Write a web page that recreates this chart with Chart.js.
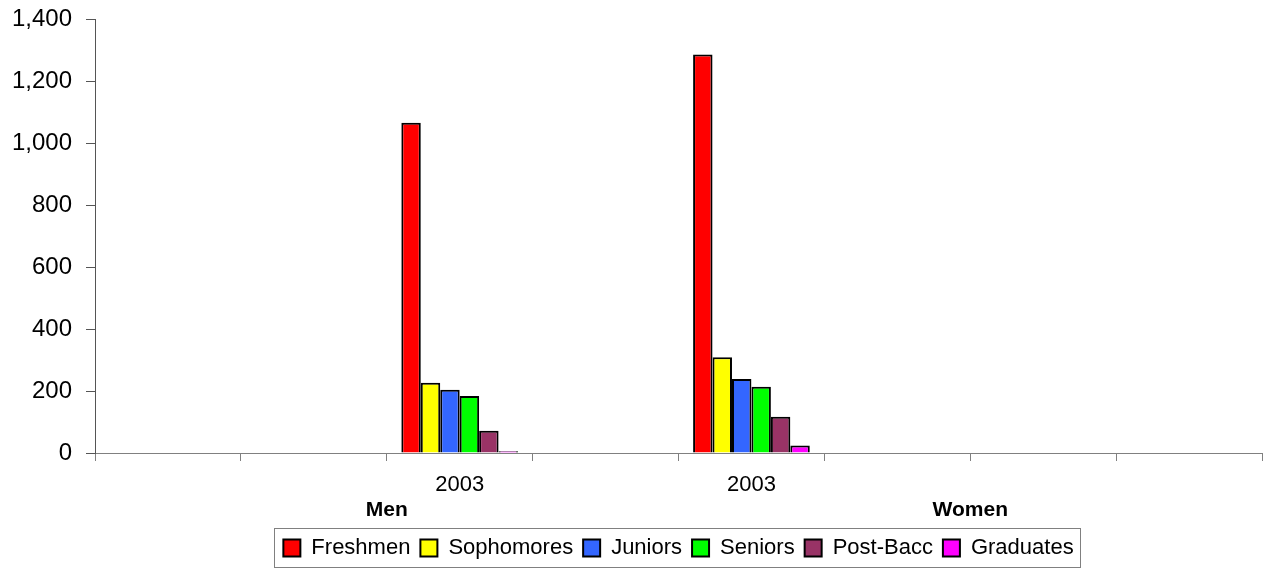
<!DOCTYPE html>
<html>
<head>
<meta charset="utf-8">
<script src="https://cdn.jsdelivr.net/npm/chart.js@4/dist/chart.umd.min.js"></script>
<style>
html,body{margin:0;padding:0;background:#fff;}
#wrap{width:1263px;height:569px;position:relative;}
</style>
</head>
<body>
<div id="wrap"><canvas id="c" width="1263" height="569"></canvas></div>
<script>
const categories = ["", "", "2003", "", "2003", "", "", ""];
const groupLabels = ["Men", "Women"];
const yTicks = [0, 200, 400, 600, 800, 1000, 1200, 1400];
const seriesNames = ["Freshmen", "Sophomores", "Juniors", "Seniors", "Post-Bacc", "Graduates"];
const freshmen   = [null, null, 1066, null, 1287, null, null, null];
const sophomores = [null, null, 227,  null, 309,  null, null, null];
const juniors    = [null, null, 204,  null, 239,  null, null, null];
const seniors    = [null, null, 184,  null, 214,  null, null, null];
const postBacc   = [null, null, 72,   null, 117,  null, null, null];
const graduates  = [null, null, 6,    null, 24,   null, null, null];
const seriesColors = ["#FF0000", "#FFFF00", "#3366FF", "#00FF00", "#993366", "#FF00FF"];

const seriesValues = [freshmen, sophomores, juniors, seniors, postBacc, graduates];
const FONT = "'Liberation Sans', Arial, sans-serif";

const legendBorder = {
  id: 'legendBorder',
  afterDraw(chart) {
    const l = chart.legend;
    if (!l || !l.legendHitBoxes || !l.legendHitBoxes.length) return;
    const hb = l.legendHitBoxes;
    let x0 = Infinity, x1 = -Infinity, y0 = Infinity, y1 = -Infinity;
    hb.forEach(b => {
      x0 = Math.min(x0, b.left); x1 = Math.max(x1, b.left + b.width);
      y0 = Math.min(y0, b.top); y1 = Math.max(y1, b.top + b.height);
    });
    const ctx = chart.ctx;
    ctx.save();
    ctx.strokeStyle = '#808080';
    ctx.lineWidth = 1;
    ctx.strokeRect(Math.round(x0 - 9) + 0.5, Math.round(y0 - 9) + 0.5, Math.round(x1 - x0 + 16), Math.round(y1 - y0 + 17));
    ctx.restore();
  }
};

new Chart(document.getElementById('c'), {
  type: 'bar',
  data: {
    labels: categories,
    datasets: seriesNames.map((n, i) => ({
      label: n,
      data: seriesValues[i],
      backgroundColor: seriesColors[i],
      borderColor: '#000000',
      borderWidth: 2,
      categoryPercentage: 0.8,
      barPercentage: 1.0,
      xAxisID: 'x'
    }))
  },
  options: {
    responsive: false,
    animation: false,
    devicePixelRatio: 1,
    layout: { padding: { top: 1, right: 1, left: 12, bottom: 0 } },
    plugins: {
      tooltip: { enabled: false },
      legend: {
        position: 'bottom',
        fullSize: false,
        labels: {
          color: '#000',
          font: { family: FONT, size: 22 },
          boxWidth: 17,
          boxHeight: 17,
          padding: 10
        }
      }
    },
    scales: {
      x: {
        type: 'category',
        position: 'bottom',
        offset: true,
        weight: 1,
        afterFit: s => { s.height = 45; },
        grid: { display: true, offset: true, drawOnChartArea: false, drawTicks: true, tickLength: 8, color: '#808080' },
        border: { display: true, color: '#808080', width: 1 },
        ticks: { color: '#000', font: { family: FONT, size: 22 }, padding: 11, maxRotation: 0, autoSkip: false }
      },
      x2: {
        type: 'category',
        labels: groupLabels,
        position: 'bottom',
        offset: true,
        weight: 2,
        afterFit: s => { s.height = 29; },
        grid: { display: false, drawTicks: false, tickLength: 0 },
        border: { display: false },
        ticks: { color: '#000', font: { family: FONT, size: 21, weight: 'bold' }, padding: 0, maxRotation: 0, autoSkip: false }
      },
      y: {
        min: 0,
        max: 1400,
        afterBuildTicks: s => { s.ticks = yTicks.map(v => ({ value: v })); },
        afterFit: s => { s.width = 83; },
        grid: { display: true, drawOnChartArea: false, drawTicks: true, tickLength: 18, tickBorderDash: [0, 9, 9, 100], color: '#555' },
        border: { display: true, color: '#555', width: 1 },
        ticks: {
          color: '#000',
          font: { family: FONT, size: 24 },
          padding: 5,
          callback: v => Number(v).toLocaleString('en-US')
        }
      }
    }
  },
  plugins: [legendBorder]
});
</script>
</body>
</html>
